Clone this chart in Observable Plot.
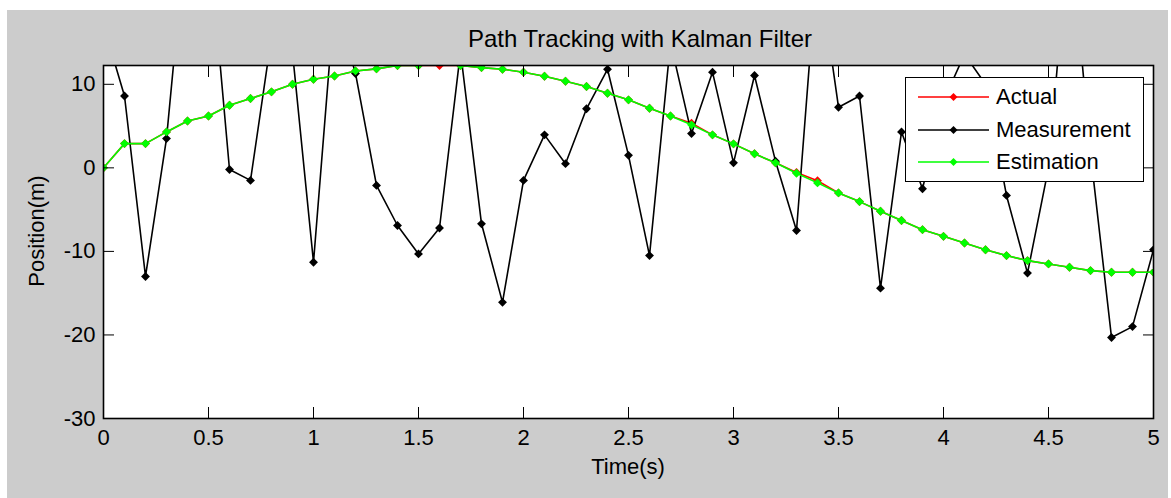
<!DOCTYPE html>
<html><head><meta charset="utf-8">
<script src="https://cdn.jsdelivr.net/npm/d3@7"></script>
<script src="https://cdn.jsdelivr.net/npm/@observablehq/plot@0.6"></script>
<style>
html,body{margin:0;padding:0;background:#fff;}
#fig{position:relative;width:1171px;height:498px;overflow:hidden;font-family:"Liberation Sans",Arial,sans-serif;color:#000;}
#bg{position:absolute;left:7px;top:10px;width:1161px;height:488px;background:#cccccc;}
#chart{position:absolute;left:0;top:0;}
#title{position:absolute;top:25px;left:0;width:1280px;text-align:center;font-size:24px;}
#xlabel{position:absolute;top:454px;left:0;width:1256px;text-align:center;font-size:22px;}
#ylabel{position:absolute;left:37px;top:231px;font-size:22px;transform:translate(-50%,-50%) rotate(-90deg);white-space:nowrap;}
#legend{position:absolute;left:905px;top:77px;width:239px;height:105px;box-sizing:border-box;border:1.5px solid #000;background:#fff;}
.row{position:absolute;left:0;height:30px;display:flex;align-items:center;}
.row svg{margin-left:12px;}
.row span{margin-left:6px;font-size:22px;}
</style></head>
<body>
<div id="fig">
  <div id="bg"></div>
  <div id="chart"></div>
  <div id="title"></div>
  <div id="xlabel"></div>
  <div id="ylabel"></div>
  <div id="legend"></div>
</div>
<script>
const titleText = "Path Tracking with Kalman Filter";
const xLabel = "Time(s)";
const yLabel = "Position(m)";
const seriesNames = ["Actual", "Measurement", "Estimation"];
const seriesColors = ["#ff0000", "#000000", "#00ff00"];

const time = [0,0.1,0.2,0.3,0.4,0.5,0.6,0.7,0.8,0.9,1.0,1.1,1.2,1.3,1.4,1.5,1.6,1.7,1.8,1.9,2.0,2.1,2.2,2.3,2.4,2.5,2.6,2.7,2.8,2.9,3.0,3.1,3.2,3.3,3.4,3.5,3.6,3.7,3.8,3.9,4.0,4.1,4.2,4.3,4.4,4.5,4.6,4.7,4.8,4.9,5.0];

const estimation = [0,2.9,2.9,4.3,5.6,6.2,7.5,8.3,9.1,10.0,10.6,11.0,11.6,11.85,12.25,12.25,12.9,12.25,12.0,11.8,11.45,10.97,10.37,9.74,8.93,8.14,7.14,6.2,5.15,3.95,2.87,1.68,0.6,-0.64,-1.8,-3.0,-4.04,-5.2,-6.3,-7.4,-8.2,-9.0,-9.8,-10.5,-11.1,-11.5,-11.9,-12.3,-12.5,-12.5,-12.5];

const actual = [0,2.9,2.9,4.3,5.6,6.2,7.5,8.3,9.1,10.0,10.6,11.0,11.6,11.85,12.25,12.25,12.25,12.25,12.0,11.8,11.45,10.97,10.37,9.74,8.93,8.14,7.14,6.2,5.35,3.95,2.87,1.68,0.6,-0.55,-1.55,-3.0,-4.04,-5.2,-6.3,-7.4,-8.2,-9.0,-9.8,-10.5,-11.1,-11.5,-11.9,-12.3,-12.5,-12.5,-12.5];

const measurement = [17.1,8.6,-13.0,3.5,30,28,-0.2,-1.5,15.7,13.8,-11.3,20,11.3,-2.1,-6.9,-10.3,-7.2,13.9,-6.7,-16.1,-1.5,3.95,0.5,7.07,11.8,1.5,-10.5,15,4.1,11.45,0.6,11.05,0.8,-7.5,25,7.26,8.6,-14.4,4.3,-2.5,8,13.6,10,-3.3,-12.6,0,29,1.8,-20.3,-19.0,-9.8];

const xTicks = [0,0.5,1,1.5,2,2.5,3,3.5,4,4.5,5];
const yTicks = [-30,-20,-10,0,10];

const rows = time.map((t, i) => ({t, actual: actual[i], meas: measurement[i], est: estimation[i]}));

const seriesKeys = ["actual", "meas", "est"];
const seriesMarks = seriesKeys.flatMap((k, i) => [
  Plot.line(rows, {x: "t", y: k, stroke: seriesColors[i], strokeWidth: 1.6, clip: true}),
  Plot.dot(rows, {x: "t", y: k, symbol: "diamond2", fill: seriesColors[i], r: 4, clip: true})
]);

const chart = Plot.plot({
  width: 1171, height: 498,
  marginLeft: 103, marginRight: 18, marginTop: 65, marginBottom: 80,
  x: {domain: [0, 5]},
  y: {domain: [-30, 12.25]},
  style: {background: "transparent", fontFamily: "Liberation Sans, Arial, sans-serif", fontSize: "22px", color: "black", overflow: "visible"},
  marks: [
    Plot.frame({fill: "white"}),
    ...seriesMarks,
    Plot.axisX(xTicks, {anchor: "bottom", tickSize: -11, tickPadding: 22, tickFormat: d => String(d), label: null}),
    Plot.axisX(xTicks, {anchor: "top", tickSize: -11, tickFormat: () => "", label: null}),
    Plot.axisY(yTicks, {anchor: "left", tickSize: -11, tickPadding: 19, tickFormat: d => String(d), label: null}),
    Plot.axisY(yTicks, {anchor: "right", tickSize: -11, tickFormat: () => "", label: null}),
    Plot.frame({stroke: "black", strokeWidth: 1.6})
  ]
});
document.getElementById("chart").appendChild(chart);
document.getElementById("title").textContent = titleText;
document.getElementById("xlabel").textContent = xLabel;
document.getElementById("ylabel").textContent = yLabel;

const legend = document.getElementById("legend");
seriesNames.forEach((name, i) => {
  const row = document.createElement("div");
  row.className = "row";
  row.style.top = (4 + i * 32.5) + "px";
  const ns = "http://www.w3.org/2000/svg";
  const svg = document.createElementNS(ns, "svg");
  svg.setAttribute("width", 72); svg.setAttribute("height", 20);
  const ln = document.createElementNS(ns, "line");
  ln.setAttribute("x1", 0); ln.setAttribute("x2", 71); ln.setAttribute("y1", 10); ln.setAttribute("y2", 10);
  ln.setAttribute("stroke", seriesColors[i]); ln.setAttribute("stroke-width", 1.6);
  const mk = document.createElementNS(ns, "path");
  mk.setAttribute("d", "M35.5,6 L39.5,10 L35.5,14 L31.5,10 Z");
  mk.setAttribute("fill", seriesColors[i]);
  svg.appendChild(ln); svg.appendChild(mk);
  const span = document.createElement("span");
  span.textContent = name;
  row.appendChild(svg); row.appendChild(span);
  legend.appendChild(row);
});
</script>
</body></html>
